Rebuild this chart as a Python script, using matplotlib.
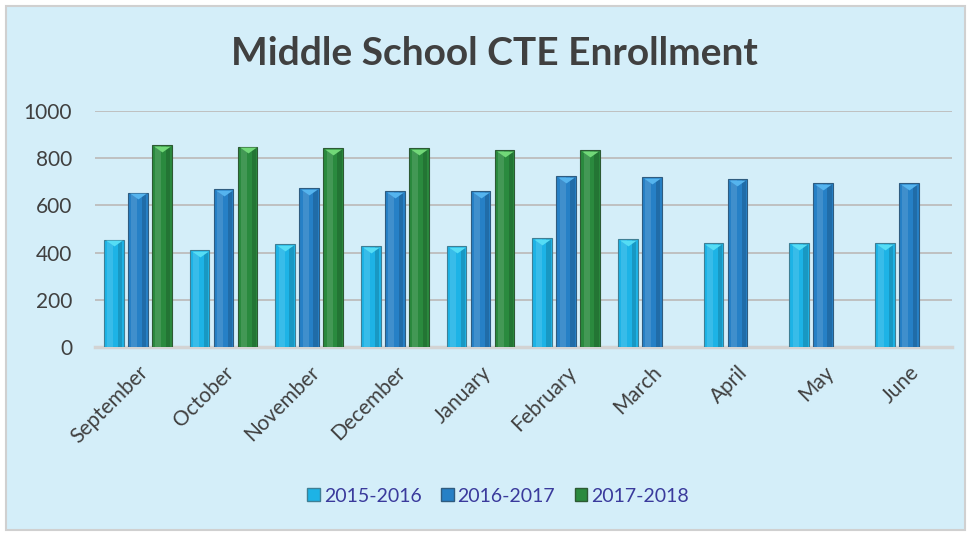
import numpy as np
import matplotlib.pyplot as plt
from matplotlib.patches import Rectangle

months = ["September", "October", "November", "December", "January",
          "February", "March", "April", "May", "June"]
enr_2015 = [455, 411, 436, 429, 427, 462, 458, 441, 441, 441]
enr_2016 = [655, 669, 672, 662, 662, 725, 720, 713, 695, 694]
enr_2017 = [856, 849, 843, 843, 835, 835, np.nan, np.nan, np.nan, np.nan]
series = ["2015-2016", "2016-2017", "2017-2018"]

bg = "#D4EEF9"
face = ["#1DB3E6", "#2680C6", "#2A8A3E"]
edge = ["#3F7F95", "#2F5C80", "#2D5A34"]
tip = ["#55DDF5", "#55B4EE", "#72D878"]

# flat downward triangle used as the bevel on top of each bar
bevel = [(-1, 0.35), (1, 0.35), (0, -0.35), (-1, 0.35)]

plt.rcParams['font.family'] = ['Lato', 'DejaVu Sans']

fig = plt.figure(figsize=(9.71, 5.34), dpi=100, facecolor="white")
# chart area background with a light grey frame
fig.patches.append(Rectangle((6 / 971, 4 / 534), 959 / 971, 524 / 534,
                             transform=fig.transFigure, facecolor=bg,
                             edgecolor="#D0D0D0", linewidth=1.5, zorder=-5))

ax = fig.add_axes([0.098, 0.350, 0.882, 0.442])
ax.set_zorder(2)
ax.patch.set_alpha(0)

x = np.arange(len(months))
w = 0.23
step = 0.28
for i, vals in enumerate([enr_2015, enr_2016, enr_2017]):
    xs = x + (i - 1) * step
    v = np.array(vals, dtype=float)
    ok = ~np.isnan(v)
    ax.bar(xs[ok], v[ok], width=w, color=face[i], edgecolor=edge[i],
           linewidth=0.8, zorder=3, label=series[i])
    # lighter band along the left side of each bar
    ax.bar(xs[ok] - w * 0.18, v[ok] - 6, width=w * 0.3, color="white",
           alpha=0.12, linewidth=0, zorder=4)
    # darker band on the right
    ax.bar(xs[ok] + w * 0.32, v[ok] - 6, width=w * 0.22, color="black",
           alpha=0.15, linewidth=0, zorder=4)
    ax.plot(xs[ok], v[ok] - 16, linestyle="none", marker=bevel,
            markersize=12, color=tip[i], markeredgewidth=0, zorder=5)

ax.set_xlim(-0.5, len(months) - 0.5)
ax.set_ylim(0, 1000)
ax.set_yticks(range(0, 1001, 200))
ax.yaxis.grid(True, color="#BDBDBD", linewidth=1.3, zorder=1)
ax.set_axisbelow(True)
for s in ["top", "right", "left"]:
    ax.spines[s].set_visible(False)
ax.spines["bottom"].set_color("#D3D3D3")
ax.spines["bottom"].set_linewidth(2.5)
ax.spines["bottom"].set_zorder(2)
ax.tick_params(axis="both", length=0, labelsize=15, labelcolor="#404040")
ax.tick_params(axis="y", pad=16.5)
ax.set_xticks(x)
ax.set_xticklabels(months, rotation=45, ha="right", rotation_mode="anchor")
ax.tick_params(axis="x", pad=11)

fig.text(0.509, 0.900, "Middle School CTE Enrollment", ha="center",
         va="center", fontsize=28, fontweight="bold", color="#404040")

handles = [Rectangle((0, 0), 1, 1, facecolor=face[i], edgecolor=edge[i])
           for i in range(3)]
fig.legend(handles, series, loc="center", bbox_to_anchor=(0.513, 0.071),
           ncol=3, frameon=False, fontsize=14, labelcolor="#3A3A9C",
           handlelength=0.65, handleheight=0.65, handletextpad=0.2,
           columnspacing=1.0)

fig.savefig("out.png", dpi=100, facecolor="white")
